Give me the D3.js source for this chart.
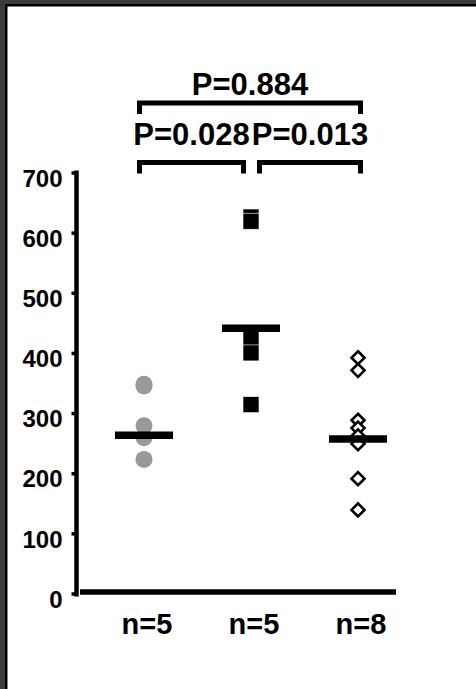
<!DOCTYPE html>
<html>
<head>
<meta charset="utf-8">
<script src="https://cdn.jsdelivr.net/npm/d3@7"></script>
<style>
  html, body { margin: 0; padding: 0; background: #3b3b3b; }
  svg { display: block; }
  text { font-family: "Liberation Sans", Arial, sans-serif; font-weight: bold; fill: #000; }
</style>
</head>
<body>
<script>
// groups and their points
var groups = ["g1", "g2", "g3"];
var nLabels = ["n=5", "n=5", "n=8"];
var group1 = [348, 345, 279, 259, 223];
var group2 = [626, 619, 425, 400, 314];
var group3 = [392, 371, 288, 275, 262, 249, 191, 139];
var centers = [263, 441, 257];
var yTicks = [0, 100, 200, 300, 400, 500, 600, 700];
// comparisons: [from group, to group, label]
var pairs = [["g1", "g3", "P=0.884"], ["g1", "g2", "P=0.028"], ["g2", "g3", "P=0.013"]];

var W = 476, H = 689;
var svg = d3.select("body").append("svg").attr("width", W).attr("height", H);

// frame
svg.append("rect").attr("x", 5).attr("y", 4).attr("width", W).attr("height", H).attr("fill", "#000");
svg.append("rect").attr("x", 7.5).attr("y", 6.5).attr("width", W).attr("height", H).attr("fill", "#fff");

var x = d3.scalePoint().domain(groups).range([144, 358]);
var y = d3.scaleLinear().domain([0, 700]).range([593.5, 172.5]);

// y axis
var yAxis = d3.axisLeft(y).tickValues(yTicks).tickSize(5).tickSizeOuter(0).tickPadding(9);
var ya = svg.append("g").attr("transform", "translate(76.5,0)").call(yAxis);
ya.select(".domain").remove();
ya.selectAll(".tick line").attr("stroke", "#000").attr("stroke-width", 3.5);
ya.selectAll(".tick text").attr("dy", "0.82em").attr("y", -6)
  .style("font-size", "24px")
  .style("font-family", "'Liberation Sans', Arial, sans-serif").style("font-weight", "bold");
svg.append("line").attr("x1", 76.5).attr("x2", 76.5)
  .attr("y1", y(700) - 2).attr("y2", y(0) + 3)
  .attr("stroke", "#000").attr("stroke-width", 4.5);

// x axis
svg.append("line").attr("x1", 80).attr("x2", 396)
  .attr("y1", 592).attr("y2", 592)
  .attr("stroke", "#000").attr("stroke-width", 5.5);
var xAxis = d3.axisBottom(x).tickSize(0).tickFormat(function(d, i){ return nLabels[i]; });
var xa = svg.append("g").attr("transform", "translate(2.5,634)").call(xAxis);
xa.select(".domain").remove();
xa.selectAll(".tick text").attr("y", 0).attr("dy", 0)
  .style("font-size", "29px")
  .style("font-family", "'Liberation Sans', Arial, sans-serif").style("font-weight", "bold");

// group 1: gray circles
svg.selectAll("circle.g1").data(group1).enter().append("circle")
  .attr("class", "g1")
  .attr("cx", x("g1")).attr("cy", function(d){ return y(d); })
  .attr("r", 8.5).attr("fill", "#999");

// group 2: black squares
svg.selectAll("rect.g2").data(group2).enter().append("rect")
  .attr("class", "g2")
  .attr("x", x("g2") - 8).attr("y", function(d){ return y(d) - 8; })
  .attr("width", 16).attr("height", 16)
  .attr("fill", "#000").attr("stroke", "#fff").attr("stroke-width", 0.6);

// group 3: open diamonds
svg.selectAll("path.g3").data(group3).enter().append("path")
  .attr("class", "g3")
  .attr("d", function(d){
    var cx = x("g3"), cy = y(d), r = 6.5;
    return "M" + cx + "," + (cy - r) + "L" + (cx + r) + "," + cy + "L" + cx + "," + (cy + r) + "L" + (cx - r) + "," + cy + "Z";
  })
  .attr("fill", "#fff").attr("stroke", "#000").attr("stroke-width", 2.6);

// center bars
svg.selectAll("line.center").data(centers).enter().append("line")
  .attr("class", "center")
  .attr("x1", function(d, i){ return x(groups[i]) - 29; })
  .attr("x2", function(d, i){ return x(groups[i]) + 29; })
  .attr("y1", function(d){ return y(d); })
  .attr("y2", function(d){ return y(d); })
  .attr("stroke", "#000").attr("stroke-width", 7.5);

// brackets
var bracketY = [103, 162.5, 162.5];
var labelY = [95, 145, 145];
var ends = [[139.5, 360.5], [139.5, 243.5], [259.5, 360.5]];
pairs.forEach(function(p, i){
  var a = ends[i][0], b = ends[i][1], by = bracketY[i];
  svg.append("path")
    .attr("d", "M" + a + "," + (by + 11) + "V" + by + "H" + b + "V" + (by + 11))
    .attr("fill", "none").attr("stroke", "#000").attr("stroke-width", 5);
  svg.append("text")
    .attr("x", (a + b) / 2).attr("y", labelY[i])
    .attr("text-anchor", "middle")
    .style("font-size", "31px")
    .text(p[2]);
});
</script>
</body>
</html>
